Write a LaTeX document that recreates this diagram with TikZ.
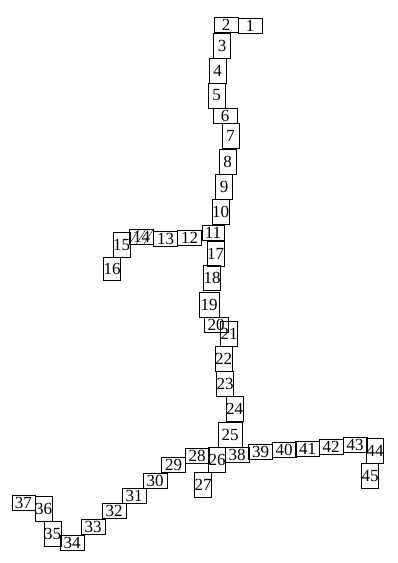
\documentclass[tikz,border=0pt]{standalone}
\usepackage{fontspec}
\setmainfont{Liberation Serif}

\begin{document}
\begin{tikzpicture}[x=1pt, y=-1pt,
  cell/.style={draw, inner sep=0pt, font=\fontsize{17}{17}\selectfont},
  lying/.style={cell, minimum width=24pt, minimum height=15pt},
  standing/.style={cell, minimum width=17pt, minimum height=25pt}]
  \useasboundingbox (0,0) rectangle (398,563);
  % upper chain
  \node[lying] (n1) at (250,26) {1};
  \node[lying] (n2) at (226,25) {2};
  \node[standing] (n3) at (222,45.5) {3};
  \node[standing] (n4) at (217.5,70.5) {4};
  \node[standing] (n5) at (216.5,95.5) {5};
  \node[lying] (n6) at (225,115.5) {6};
  \node[standing] (n7) at (230.5,136) {7};
  \node[standing] (n8) at (227.5,161.5) {8};
  \node[standing] (n9) at (224,186.5) {9};
  \node[standing] (n10) at (220.5,212) {10};
  \node[lying, minimum width=22pt] (n11) at (213,232.5) {11};
  % side branch
  \node[lying] (n12) at (189.5,237.5) {12};
  \node[lying] (n13) at (165.5,239) {13};
  \node[lying] (n14) at (141.5,236.5) {14};
  \draw (n14.south west) -- ([xshift=10pt]n14.north west);
  \draw ([xshift=7pt]n14.south west) -- ([xshift=17pt]n14.north west);
  \draw ([xshift=-10pt]n14.south east) -- (n14.north east);
  \node[standing] (n15) at (121.5,245) {15};
  \node[standing, minimum width=16pt, minimum height=23pt] (n16) at (112,268.5) {16};
  % trunk
  \node[standing] (n17) at (215.5,253.5) {17};
  \node[standing] (n18) at (212,278) {18};
  \node[standing, minimum width=20pt] (n19) at (209,304.5) {19};
  \node[lying] (n20) at (216,324.5) {20};
  \node[standing] (n21) at (229,334) {21};
  \node[standing] (n22) at (223.5,358.5) {22};
  \node[standing] (n23) at (225,383.5) {23};
  \node[standing] (n24) at (234.5,408.5) {24};
  \node[cell, minimum width=24pt, minimum height=25pt] (n25) at (230,434.5) {25};
  \node[standing, minimum width=16pt] (n26) at (217,459.5) {26};
  \node[standing, minimum width=16pt] (n27) at (203,484.5) {27};
  % lower left branch
  \node[lying] (n28) at (197,455.5) {28};
  \node[lying] (n29) at (173.5,464.5) {29};
  \node[lying] (n30) at (155,480.5) {30};
  \node[lying] (n31) at (134,495.5) {31};
  \node[lying] (n32) at (114,511) {32};
  \node[lying] (n33) at (93,527) {33};
  \node[lying] (n34) at (72,542.5) {34};
  \node[standing] (n35) at (52.5,533.5) {35};
  \node[standing] (n36) at (43.5,508.5) {36};
  \node[lying, minimum width=23pt] (n37) at (23.5,503) {37};
  % lower right branch
  \node[lying] (n38) at (237,454.5) {38};
  \node[lying] (n39) at (260.5,452) {39};
  \node[lying] (n40) at (284,450) {40};
  \node[lying] (n41) at (307.5,448.5) {41};
  \node[lying] (n42) at (331,446.5) {42};
  \node[lying] (n43) at (355,445) {43};
  \node[standing] (n44) at (375,450.5) {44};
  \node[standing] (n45) at (370,475.5) {45};
\end{tikzpicture}
\end{document}
